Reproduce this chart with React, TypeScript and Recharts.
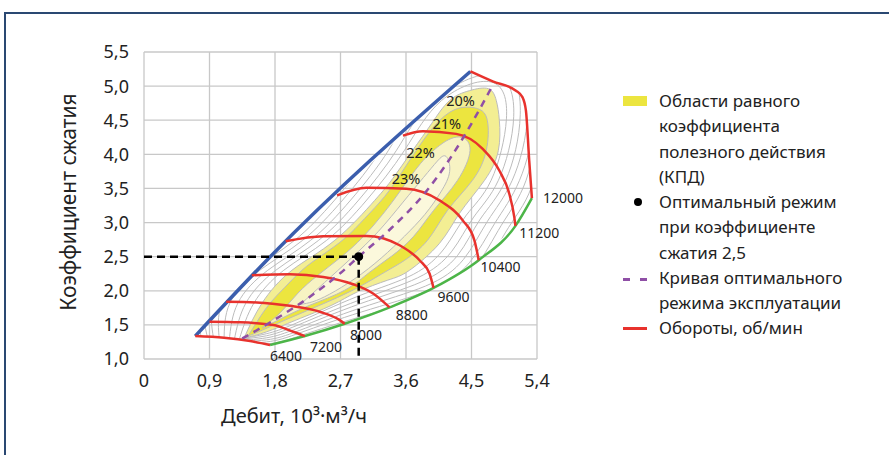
import React from 'react';
import { ComposedChart, Scatter, XAxis, YAxis, CartesianGrid, Curve } from 'recharts';

type Pt = { x: number; y: number };
const P = (x: number, y: number): Pt => ({ x, y });

const FONT = "'Noto Sans', 'DejaVu Sans', sans-serif";

// axis ticks
const xTicks = [0, 0.9, 1.8, 2.7, 3.6, 4.5, 5.4];
const yTicks = [1, 1.5, 2, 2.5, 3, 3.5, 4, 4.5, 5, 5.5];

// surge (blue) and choke (green) boundaries
const surgeLine = [P(0.704, 1.336), P(1.731, 2.496), P(4.485, 5.215)];
const chokeLine = [P(1.732, 1.205), P(2.211, 1.336), P(2.758, 1.516), P(3.375, 1.756), P(3.978, 2.042), P(4.599, 2.449), P(5.104, 2.951), P(5.33, 3.358)];

// speed lines, rpm
const rpm6400 = [P(0.704, 1.336), P(1.1, 1.311), P(1.458, 1.263), P(1.732, 1.205)];
const rpm7200 = [P(0.9, 1.545), P(1.321, 1.537), P(1.777, 1.497), P(2.051, 1.399), P(2.211, 1.336)];
const rpm8000 = [P(1.129, 1.838), P(1.549, 1.829), P(2.006, 1.779), P(2.416, 1.692), P(2.69, 1.57), P(2.758, 1.516)];
const rpm8800 = [P(1.481, 2.228), P(2.006, 2.243), P(2.462, 2.203), P(2.873, 2.096), P(3.147, 1.961), P(3.375, 1.756)];
const rpm9600 = [P(1.947, 2.725), P(2.462, 2.798), P(3.056, 2.803), P(3.512, 2.667), P(3.786, 2.447), P(3.923, 2.253), P(3.978, 2.042)];
const rpm10400 = [P(2.653, 3.398), P(3.056, 3.51), P(3.604, 3.496), P(4.06, 3.325), P(4.38, 3.032), P(4.54, 2.74), P(4.599, 2.449)];
const rpm11200 = [P(3.558, 4.275), P(3.832, 4.338), P(4.289, 4.3), P(4.654, 4.08), P(4.882, 3.763), P(5.019, 3.422), P(5.088, 3.08), P(5.104, 2.951)];
const rpm12000 = [P(4.485, 5.215), P(4.791, 5.069), P(5.111, 4.933), P(5.202, 4.835), P(5.248, 4.64), P(5.293, 3.909), P(5.33, 3.358)];
const rpmLines = [rpm6400, rpm7200, rpm8000, rpm8800, rpm9600, rpm10400, rpm11200, rpm12000];

const rpmLabels = [
  { x: 1.73, y: 1.05, text: '6400' },
  { x: 2.28, y: 1.19, text: '7200' },
  { x: 2.83, y: 1.365, text: '8000' },
  { x: 3.458, y: 1.658, text: '8800' },
  { x: 4.033, y: 1.911, text: '9600' },
  { x: 4.622, y: 2.36, text: '10400' },
  { x: 5.156, y: 2.861, text: '11200' },
  { x: 5.4, y: 3.368, text: '12000' },
];
const effLabels = [
  { x: 4.35, y: 4.79, text: '20%' },
  { x: 4.16, y: 4.46, text: '21%' },
  { x: 3.8, y: 4.04, text: '22%' },
  { x: 3.6, y: 3.65, text: '23%' },
];

// optimal operating curve and point
const optimalCurve = [P(1.35, 1.3), P(1.8, 1.58), P(2.25, 1.89), P(2.7, 2.26), P(2.95, 2.5), P(3.4, 2.92), P(3.85, 3.42), P(4.2, 3.93), P(4.5, 4.45), P(4.77, 4.97)];
const optimalPoint = [P(2.95, 2.5)];
const guideH = [P(0, 2.5), P(2.95, 2.5)];
const guideV = [P(2.95, 2.5), P(2.95, 1.0)];

// efficiency islands (20%, 21%, 22%, 23%)
const eff20 = [P(1.375, 1.307), P(1.622, 1.819), P(2.033, 2.301), P(2.622, 2.74), P(3.17, 3.325), P(3.418, 3.646), P(3.69, 4.056), P(3.951, 4.45), P(4.197, 4.787), P(4.471, 4.933), P(4.732, 4.962), P(4.841, 4.787), P(4.883, 4.494), P(4.869, 4.056), P(4.678, 3.617), P(4.335, 3.135), P(4.061, 2.696), P(3.649, 2.301), P(3.348, 2.155), P(2.924, 1.98), P(2.581, 1.789), P(2.088, 1.57), P(1.677, 1.395), P(1.375, 1.307)];
const eff21 = [P(1.43, 1.336), P(1.567, 1.57), P(1.732, 1.819), P(1.937, 2.053), P(2.17, 2.301), P(2.444, 2.52), P(2.759, 2.769), P(3.033, 3.061), P(3.307, 3.383), P(3.54, 3.734), P(3.787, 4.129), P(4.033, 4.465), P(4.307, 4.67), P(4.581, 4.67), P(4.718, 4.494), P(4.703, 4.056), P(4.512, 3.617), P(4.17, 3.178), P(3.896, 2.74), P(3.581, 2.447), P(3.307, 2.272), P(2.896, 2.023), P(2.417, 1.789), P(1.937, 1.57), P(1.595, 1.409), P(1.43, 1.336)];
const eff22 = [P(1.622, 1.453), P(1.88, 1.687), P(2.115, 1.965), P(2.389, 2.228), P(2.704, 2.491), P(3.005, 2.784), P(3.279, 3.12), P(3.526, 3.471), P(3.8, 3.866), P(4.06, 4.129), P(4.22, 4.231), P(4.376, 4.246), P(4.48, 4.056), P(4.307, 3.617), P(3.979, 3.178), P(3.705, 2.798), P(3.4, 2.506), P(3.1, 2.272), P(2.759, 2.009), P(2.28, 1.789), P(1.896, 1.599), P(1.622, 1.453)];
const eff23 = [P(2.15, 1.8), P(2.48, 2.12), P(2.85, 2.48), P(3.22, 2.87), P(3.56, 3.3), P(3.84, 3.66), P(4.03, 3.9), P(4.15, 3.97), P(4.2, 3.75), P(4.08, 3.45), P(3.86, 3.12), P(3.58, 2.8), P(3.26, 2.48), P(2.9, 2.18), P(2.55, 1.95), P(2.32, 1.84), P(2.15, 1.8)];

// lower-efficiency gray contours (clipped to the map)
const grayContours: Pt[][] = [
  [P(1.31, 1.29), P(1.51, 1.82), P(1.92, 2.3), P(2.51, 2.74), P(3.06, 3.33), P(3.58, 4.06), P(4.09, 4.79), P(4.77, 5.06), P(4.98, 4.52), P(4.77, 3.62), P(4.43, 3.11), P(4.14, 2.64), P(3.7, 2.24), P(2.94, 1.92), P(2.1, 1.53), P(1.68, 1.37), P(1.31, 1.29)],
  [P(1.24, 1.28), P(1.4, 1.82), P(1.81, 2.3), P(2.4, 2.74), P(2.95, 3.33), P(3.47, 4.06), P(3.98, 4.79), P(4.81, 5.17), P(5.08, 4.55), P(4.87, 3.62), P(4.53, 3.08), P(4.23, 2.58), P(3.76, 2.19), P(2.95, 1.86), P(2.12, 1.5), P(1.68, 1.34), P(1.24, 1.28)],
  [P(1.17, 1.26), P(1.29, 1.82), P(1.7, 2.3), P(2.29, 2.74), P(2.84, 3.33), P(3.36, 4.06), P(3.87, 4.79), P(4.86, 5.27), P(5.17, 4.58), P(4.97, 3.62), P(4.62, 3.05), P(4.31, 2.52), P(3.81, 2.13), P(2.97, 1.81), P(2.13, 1.46), P(1.68, 1.31), P(1.17, 1.26)],
  [P(1.1, 1.25), P(1.18, 1.82), P(1.59, 2.3), P(2.18, 2.74), P(2.73, 3.33), P(3.25, 4.06), P(3.76, 4.79), P(4.9, 5.37), P(5.27, 4.61), P(5.06, 3.62), P(4.72, 3.02), P(4.39, 2.46), P(3.87, 2.07), P(2.98, 1.75), P(2.14, 1.42), P(1.68, 1.28), P(1.1, 1.25)],
  [P(1.04, 1.23), P(1.07, 1.82), P(1.48, 2.3), P(2.07, 2.74), P(2.62, 3.33), P(3.14, 4.06), P(3.65, 4.79), P(4.94, 5.47), P(5.36, 4.64), P(5.16, 3.62), P(4.82, 2.99), P(4.47, 2.41), P(3.92, 2.01), P(2.99, 1.69), P(2.16, 1.39), P(1.68, 1.25), P(1.04, 1.23)],
  [P(0.97, 1.22), P(0.96, 1.82), P(1.37, 2.3), P(1.96, 2.74), P(2.51, 3.33), P(3.03, 4.06), P(3.54, 4.79), P(4.98, 5.5), P(5.4, 4.67), P(5.25, 3.62), P(4.91, 2.96), P(4.55, 2.35), P(3.98, 1.95), P(3.01, 1.63), P(2.17, 1.35), P(1.68, 1.22), P(0.97, 1.22)],
  [P(0.9, 1.2), P(0.85, 1.82), P(1.26, 2.3), P(1.85, 2.74), P(2.4, 3.33), P(2.92, 4.06), P(3.43, 4.79), P(5.02, 5.5), P(5.4, 4.7), P(5.35, 3.62), P(5.01, 2.93), P(4.63, 2.29), P(4.03, 1.9), P(3.02, 1.57), P(2.19, 1.31), P(1.68, 1.19), P(0.9, 1.2)],
  [P(0.83, 1.19), P(0.74, 1.82), P(1.15, 2.3), P(1.74, 2.74), P(2.29, 3.33), P(2.81, 4.06), P(3.32, 4.79), P(5.06, 5.5), P(5.4, 4.73), P(5.4, 3.62), P(5.1, 2.9), P(4.72, 2.23), P(4.09, 1.84), P(3.04, 1.52), P(2.2, 1.27), P(1.68, 1.16), P(0.83, 1.19)],
  [P(0.76, 1.17), P(0.63, 1.82), P(1.04, 2.3), P(1.63, 2.74), P(2.18, 3.33), P(2.7, 4.06), P(3.21, 4.79), P(5.1, 5.5), P(5.4, 4.76), P(5.4, 3.62), P(5.2, 2.87), P(4.8, 2.17), P(4.14, 1.78), P(3.05, 1.46), P(2.21, 1.24), P(1.68, 1.13), P(0.76, 1.17)],
  [P(0.7, 1.16), P(0.52, 1.82), P(0.93, 2.3), P(1.52, 2.74), P(2.07, 3.33), P(2.59, 4.06), P(3.1, 4.79), P(5.14, 5.5), P(5.4, 4.79), P(5.4, 3.62), P(5.3, 2.84), P(4.88, 2.12), P(4.2, 1.72), P(3.07, 1.4), P(2.23, 1.2), P(1.68, 1.1), P(0.7, 1.16)],
];

// map outline built from the boundaries (used as clip region)
const mapOutline = [
  ...surgeLine,
  ...rpm12000.slice(1),
  ...[...chokeLine].reverse().slice(1),
  ...[...rpm6400].reverse().slice(1),
];

const legendLines = [
  'Области равного',
  'коэффициента',
  'полезного действия',
  '(КПД)',
  'Оптимальный режим',
  'при коэффициенте',
  'сжатия 2,5',
  'Кривая оптимального',
  'режима эксплуатации',
  'Обороты, об/мин',
];

const C = {
  red: '#e8322d',
  blue: '#3b5ead',
  green: '#4cb548',
  purple: '#8f4fa6',
  gray: '#bcbcbc',
  grid: '#c8c8c8',
  e20: '#f3ee93',
  e21: '#ece53f',
  e22: '#f7f3c3',
  e23: '#fbf8dc',
  text: '#222',
};

const noShape = () => <g />;

const clipLine = (props: any) => {
  const d = props.points.map((p: any, i: number) => `${i ? 'L' : 'M'}${p.x},${p.y}`).join('') + 'Z';
  return (
    <defs>
      <clipPath id="mapClip">
        <path d={d} />
      </clipPath>
    </defs>
  );
};

const fillLine = (fill: string) => (props: any) => (
  <Curve points={props.points} type="natural" fill={fill} stroke={C.gray} strokeWidth={1} />
);

const grayLine = (props: any) => (
  <g clipPath="url(#mapClip)">
    <Curve points={props.points} type="natural" fill="none" stroke={C.gray} strokeWidth={1} />
  </g>
);

const strokeLine = (stroke: string, width: number, type: any, dash?: string) => (props: any) => (
  <Curve points={props.points} type={type} fill="none" stroke={stroke} strokeWidth={width} strokeDasharray={dash} />
);

const rpmLabelShape = (p: any) => (
  <text x={p.cx + (p.payload.text === '12000' ? 6 : 0)} y={p.cy} textAnchor="start" dominantBaseline="central" fontSize={14} fontFamily={FONT} fill={C.text}>
    {p.payload.text}
  </text>
);
const effLabelShape = (p: any) => (
  <text x={p.cx} y={p.cy} textAnchor="middle" dominantBaseline="central" fontSize={14.5} fontFamily={FONT} fill={C.text}>
    {p.payload.text}
  </text>
);
const dotShape = (p: any) => <circle cx={p.cx} cy={p.cy} r={4.5} fill="#000" />;

const fmtX = (v: number) => (v === 0 ? '0' : v.toFixed(1).replace('.', ','));
const fmtY = (v: number) => v.toFixed(1).replace('.', ',');

export default function App() {
  const tickStyle = { fontSize: 18, fill: C.text, fontFamily: FONT };
  return (
    <div style={{ position: 'absolute', left: 0, top: 0, width: 889, height: 455, background: '#fff', overflow: 'hidden', fontFamily: FONT }}>
      <div style={{ position: 'absolute', left: 4, top: 12, width: 885, height: 443, borderTop: '2px solid #2a4872', borderLeft: '2px solid #2a4872' }} />
      <div style={{ position: 'absolute', left: 0, top: 0 }}>
        <ComposedChart width={889} height={455} margin={{ top: 52, right: 352, bottom: 66, left: 84 }}>
          <CartesianGrid stroke={C.grid} strokeWidth={1.3} />
          <XAxis type="number" dataKey="x" domain={[0, 5.4]} ticks={xTicks} interval={0} tickFormatter={fmtX} axisLine={false} tickLine={false} tickSize={0} tickMargin={15} tick={tickStyle} height={30} />
          <YAxis type="number" dataKey="y" domain={[1, 5.5]} ticks={yTicks} interval={0} tickFormatter={fmtY} axisLine={false} tickLine={false} tickSize={0} tickMargin={15} tick={tickStyle} width={60} />
          <Scatter data={mapOutline} shape={noShape} line={clipLine} isAnimationActive={false} />
          <Scatter data={eff20} shape={noShape} line={fillLine(C.e20)} isAnimationActive={false} />
          <Scatter data={eff21} shape={noShape} line={fillLine(C.e21)} isAnimationActive={false} />
          <Scatter data={eff22} shape={noShape} line={fillLine(C.e22)} isAnimationActive={false} />
          <Scatter data={eff23} shape={noShape} line={fillLine(C.e23)} isAnimationActive={false} />
          {grayContours.map((g, i) => (
            <Scatter key={'g' + i} data={g} shape={noShape} line={grayLine} isAnimationActive={false} />
          ))}
          <Scatter data={chokeLine} shape={noShape} line={strokeLine(C.green, 2.5, 'monotone')} isAnimationActive={false} />
          <Scatter data={surgeLine} shape={noShape} line={strokeLine(C.blue, 3.5, 'monotone')} isAnimationActive={false} />
          {rpmLines.map((r, i) => (
            <Scatter key={'r' + i} data={r} shape={noShape} line={strokeLine(C.red, 2.5, 'monotone')} isAnimationActive={false} />
          ))}
          <Scatter data={optimalCurve} shape={noShape} line={strokeLine(C.purple, 2.5, 'monotone', '7 6')} isAnimationActive={false} />
          <Scatter data={effLabels} shape={effLabelShape} isAnimationActive={false} />
          <Scatter data={rpmLabels} shape={rpmLabelShape} isAnimationActive={false} />
          <Scatter data={guideH} shape={noShape} line={strokeLine('#000', 2.5, 'linear', '8 5')} isAnimationActive={false} />
          <Scatter data={guideV} shape={noShape} line={strokeLine('#000', 2.5, 'linear', '8 5')} isAnimationActive={false} />
          <Scatter data={optimalPoint} shape={dotShape} isAnimationActive={false} />
        </ComposedChart>
      </div>
      {/* axis titles */}
      <div style={{ position: 'absolute', left: 68, top: 202, transform: 'translate(-50%, -50%) rotate(-90deg)', whiteSpace: 'nowrap', fontSize: 21, color: C.text }}>
        Коэффициент сжатия
      </div>
      <div style={{ position: 'absolute', left: 294, top: 415, transform: 'translate(-50%, -50%)', whiteSpace: 'nowrap', fontSize: 20, color: C.text }}>
        Дебит, 10³·м³/ч
      </div>
      {/* legend */}
      <div style={{ position: 'absolute', left: 623, top: 96, width: 24, height: 10, background: C.e21 }} />
      <div style={{ position: 'absolute', left: 634, top: 198, width: 8, height: 8, borderRadius: '50%', background: '#000' }} />
      <div style={{ position: 'absolute', left: 623, top: 278, width: 7, height: 2.5, background: C.purple }} />
      <div style={{ position: 'absolute', left: 640, top: 278, width: 7, height: 2.5, background: C.purple }} />
      <div style={{ position: 'absolute', left: 623, top: 327, width: 24, height: 2.5, background: C.red }} />
      <div style={{ position: 'absolute', left: 659, top: 88, fontSize: 17, lineHeight: '25.25px', color: C.text, whiteSpace: 'nowrap' }}>
        {legendLines.map((l, i) => (
          <div key={i}>{l}</div>
        ))}
      </div>
    </div>
  );
}
